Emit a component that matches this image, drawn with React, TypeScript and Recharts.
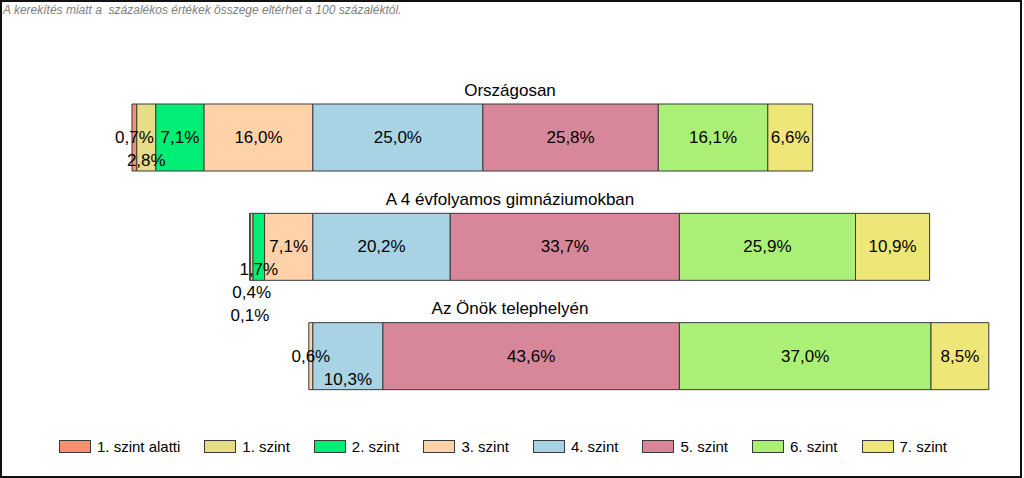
import { BarChart, Bar, XAxis, YAxis, LabelList } from "recharts";

const ROWS = ["Országosan", "A 4 évfolyamos gimnáziumokban", "Az Önök telephelyén"];
const LEVELS = ["1. szint alatti", "1. szint", "2. szint", "3. szint", "4. szint", "5. szint", "6. szint", "7. szint"];
const COLORS = ["#F98F70", "#E6DE86", "#00EE76", "#FFD2AA", "#A8D3E5", "#D8879A", "#AAF077", "#EFE678"];

// percentages per level, one value per row
const BELOW_1 = [0.7, 0.1, 0];
const LEVEL_1 = [2.8, 0.4, 0];
const LEVEL_2 = [7.1, 1.7, 0];
const LEVEL_3 = [16.0, 7.1, 0.6];
const LEVEL_4 = [25.0, 20.2, 10.3];
const LEVEL_5 = [25.8, 33.7, 43.6];
const LEVEL_6 = [16.1, 25.9, 37.0];
const LEVEL_7 = [6.6, 10.9, 8.5];
const SERIES = [BELOW_1, LEVEL_1, LEVEL_2, LEVEL_3, LEVEL_4, LEVEL_5, LEVEL_6, LEVEL_7];

// how many lines a crowded label is pushed down (row x level)
const LABEL_STAGGER = [
  [0, 1, 0, 0, 0, 0, 0, 0],
  [3, 2, 1, 0, 0, 0, 0, 0],
  [0, 0, 0, 0, 1, 0, 0, 0],
];

const FONT = "'Liberation Sans', Arial, sans-serif";
const TITLE_X = 508;

// bars are aligned on the start of level 4
const belowSums = ROWS.map((_, i) => SERIES.slice(0, 4).reduce((s, arr) => s + arr[i], 0));
const anchor = Math.max(...belowSums);
const data = ROWS.map((name, i) => {
  const row: Record<string, any> = { name, pad: anchor - belowSums[i] };
  SERIES.forEach((arr, k) => {
    row[`l${k}`] = arr[i];
  });
  return row;
});

const fmt = (v: number) => v.toFixed(1).replace(".", ",") + "%";

const makeLabel = (k: number) => (props: any) => {
  const { x, y, width, height, value, index } = props;
  if (!value) return null;
  const drop = LABEL_STAGGER[index]?.[k] ?? 0;
  return (
    <text x={x + width / 2} y={y + height / 2 + drop * 23} textAnchor="middle" dominantBaseline="central"
      fontSize={17} fontFamily={FONT} fill="#000">
      {fmt(value)}
    </text>
  );
};

// row title, drawn above the bar
const TitleLabel = (props: any) => {
  const { y, index } = props;
  return (
    <text x={TITLE_X} y={y - 14} textAnchor="middle" dominantBaseline="central" fontSize={17} fontFamily={FONT} fill="#000">
      {ROWS[index]}
    </text>
  );
};

export default function App() {
  return (
    <div style={{ position: "relative", width: 1022, height: 478, border: "2px solid #111", boxSizing: "border-box", background: "#fff", fontFamily: FONT }}>
      <style>{`body{margin:0}`}</style>
      <div style={{ position: "absolute", left: 1, top: 1, fontSize: 12, fontStyle: "italic", color: "#808080", whiteSpace: "pre" }}>
        {"A kerekítés miatt a  százalékos értékek összege eltérhet a 100 százaléktól."}
      </div>
      <div style={{ position: "absolute", left: 0, top: 0 }}>
        <BarChart width={1018} height={474} data={data} layout="vertical" barSize={67}
          margin={{ top: 81, right: 4, bottom: 65, left: 130 }}>
          <XAxis type="number" domain={[0, 130]} hide />
          <YAxis type="category" dataKey="name" hide />
          <Bar dataKey="pad" stackId="a" fill="transparent" legendType="none" isAnimationActive={false} />
          {LEVELS.map((lvl, k) => (
            <Bar key={lvl} dataKey={`l${k}`} name={lvl} stackId="a" fill={COLORS[k]} stroke="#3a3a3a" strokeWidth={1}
              isAnimationActive={false}>
              <LabelList dataKey={`l${k}`} content={makeLabel(k)} />
              {k === 4 && <LabelList dataKey="name" content={TitleLabel} />}
            </Bar>
          ))}
        </BarChart>
      </div>
      <div style={{ position: "absolute", left: 0, top: 436, width: 1002, display: "flex", justifyContent: "center", gap: 24, fontSize: 15, lineHeight: "17px" }}>
        {LEVELS.map((lvl, k) => (
          <div key={lvl} style={{ display: "flex", alignItems: "center" }}>
            <div style={{ width: 32, height: 13, background: COLORS[k], border: "1px solid #3a3a3a", boxSizing: "border-box", marginRight: 6 }} />
            <span>{lvl}</span>
          </div>
        ))}
      </div>
    </div>
  );
}
